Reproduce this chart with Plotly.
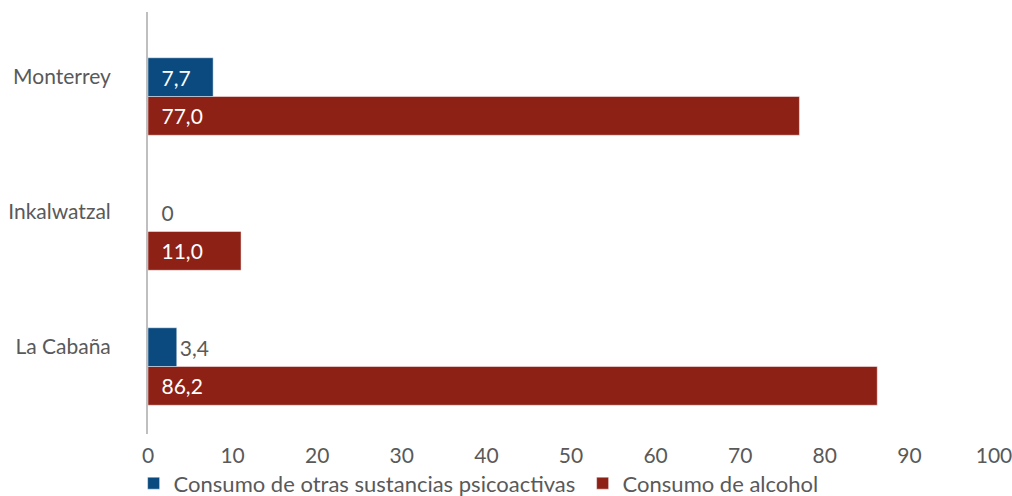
import plotly.graph_objects as go

# Communities, listed bottom-to-top on the y axis
categories = ["La Cabaña", "Inkalwatzal", "Monterrey"]
otras_sustancias = [3.4, 0, 7.7]
alcohol = [86.2, 11.0, 77.0]
x_ticks = [0, 10, 20, 30, 40, 50, 60, 70, 80, 90, 100]

BLUE = "#0b4a7f"
RED = "#8e2116"
GREY = "#595959"
FONT = "Lato, 'Noto Sans', sans-serif"
INSIDE_MIN = 5  # bars shorter than this get their label outside


def fmt(v):
    return "0" if v == 0 else f"{v:.1f}".replace(".", ",")


def label(v):
    # labels anchored at the bar base get a small indent
    indent = "\u2002" if (v >= INSIDE_MIN or v == 0) else ""
    return indent + fmt(v)


fig = go.Figure()

# Red series first so it sits below the blue bar within each group
fig.add_trace(go.Bar(
    y=categories, x=alcohol, orientation="h",
    name="Consumo de alcohol", legendrank=2,
    marker=dict(color=RED, line=dict(color="rgba(255,255,255,0.45)", width=1)),
    text=[label(v) for v in alcohol], textposition="inside",
    insidetextanchor="start",
    textfont=dict(family=FONT, size=21, color="white"),
    cliponaxis=False,
))
fig.add_trace(go.Bar(
    y=categories, x=otras_sustancias, orientation="h",
    name="Consumo de otras sustancias psicoactivas", legendrank=1,
    marker=dict(color=BLUE, line=dict(color="rgba(255,255,255,0.45)", width=1)),
    text=[label(v) for v in otras_sustancias],
    textposition=["inside" if v >= INSIDE_MIN else "outside" for v in otras_sustancias],
    insidetextanchor="start",
    textfont=dict(family=FONT, size=21,
                  color=["white" if v >= INSIDE_MIN else GREY for v in otras_sustancias]),
    cliponaxis=False,
))

fig.update_layout(
    width=1012, height=496,
    margin=dict(l=148, r=18, t=12, b=62, autoexpand=False),
    paper_bgcolor="white", plot_bgcolor="white",
    barmode="group", bargap=0.426, bargroupgap=0,
    font=dict(family=FONT, size=21, color=GREY),
    uniformtext=dict(minsize=21, mode=False),
    showlegend=True,
    legend=dict(
        orientation="h", x=-0.017, xanchor="left", y=-0.117, yanchor="middle",
        bgcolor="rgba(0,0,0,0)",
        font=dict(family=FONT, size=22, color=GREY),
        entrywidth=404, entrywidthmode="pixels",
        traceorder="normal", itemclick=False,
    ),
)
fig.update_xaxes(
    range=[0, 100], tickvals=x_ticks, ticktext=[str(t) for t in x_ticks],
    showgrid=False, zeroline=False, showline=False, ticks="",
    ticklabelstandoff=7, ticklabeloverflow="allow",
    tickfont=dict(family=FONT, size=21, color=GREY),
)
fig.update_yaxes(
    type="category", categoryorder="array", categoryarray=categories,
    range=[-0.5, 2.626],
    showgrid=False, zeroline=False, showline=True,
    linecolor="#bfbfbf", linewidth=2, ticks="",
    ticklabelstandoff=31, ticklabelshift=-20,
    tickfont=dict(family=FONT, size=21, color=GREY),
)

fig.write_html("out.html")
